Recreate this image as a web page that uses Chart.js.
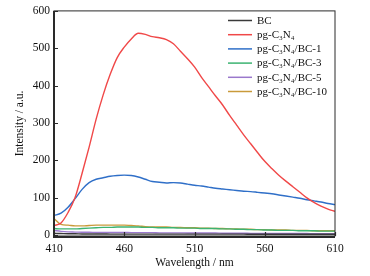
<!DOCTYPE html>
<html><head><meta charset="utf-8">
<script src="https://cdn.jsdelivr.net/npm/chart.js@4/dist/chart.umd.min.js"></script>
<style>html,body{margin:0;padding:0;background:#fff;}#wrap{width:370px;height:276px;position:relative;}</style>
</head><body><div id="wrap"><canvas id="c" width="370" height="276"></canvas></div>
<script>
const wavelengths = [410,415,420,425,430,435,440,445,450,455,460,465,470,475,480,485,490,495,500,505,510,515,520,525,530,535,540,545,550,555,560,565,570,575,580,585,590,595,600,605,610];
const seriesNames = ["BC","pg-C₃N₄","pg-C₃N₄/BC-1","pg-C₃N₄/BC-3","pg-C₃N₄/BC-5","pg-C₃N₄/BC-10"];
const bcValues = [4,3.5,3,3,2.5,2.5,2.5,2.5,2,2,2,2,2,2,2,2,2,2,2,2,2,2,2,2,2,2,2,2,1.5,1.5,1.5,1.5,1.5,1.5,1.5,1.5,1.5,1.5,1.5,1.5,1.5];
const pgValues = [25,32,60,100,165,235,310,375,430,475,503,525,540,537,531,528,523,512,492,472,450,422,397,372,348,320,294,268,244,220,197,178,160,144,129,114,99,87,77,69,63];
const bc1Values = [52,58,74,97,122,140,149,153,157,159,160,159,155,149,143,141,139,140,139,136,133,131,128,125,123,121,119,117,116,114,112,110,107,104,101,98,94,91,88,84,81];
const bc3Values = [17,16,16,16,17,18,19,20,20,21,21,21,21,20,20,19,19,19,18,18,18,17,17,17,16,16,15,15,14,14,13,13,12,12,12,11,11,11,10,10,10];
const bc5Values = [12,9.5,8,7.5,7,7,6.5,6.5,6.5,6.5,6.5,6,6,6,6,5.5,5.5,5.5,5.5,5,5,5,5,5,4.5,4.5,4.5,4.5,4,4,4,4,4,3.5,3.5,3.5,3.5,3,3,3,3];
const bc10Values = [44,28,26,24,24,25,26,26,26,26,26,25,24,22,21,21,21,20,20,19,19,18,18,17,17,16,16,15,15,14,14,13,13,13,12,12,12,11,11,11,11];
const xTicks = [410,460,510,560,610];
const yTicks = [0,100,200,300,400,500,600];
const colors = ["#3a3a3a","#f04848","#2f6fc8","#3cb371","#9a78cc","#c99a3a"];

const allValues = [bcValues,pgValues,bc1Values,bc3Values,bc5Values,bc10Values];
const datasets = seriesNames.map((n,i)=>({
  label:n,
  data:wavelengths.map((w,j)=>({x:w,y:allValues[i][j]})),
  borderColor:colors[i],
  backgroundColor:colors[i],
  borderWidth:1.4,
  pointRadius:0,
  tension:0.4,
  cubicInterpolationMode:'monotone',
  fill:false
}));
const FONT = "'Liberation Serif','Times New Roman',serif";

const framePlugin = {
  id:'frame',
  afterDatasetsDraw(chart){
    const {ctx, chartArea:a, scales} = chart;
    ctx.save();
    ctx.strokeStyle = '#2a2a2a';
    ctx.lineWidth = 1;
    ctx.strokeRect(a.left, a.top, a.right-a.left, a.bottom-a.top);
    ctx.lineWidth = 2;
    ctx.beginPath();
    ctx.moveTo(a.left, a.top); ctx.lineTo(a.left, a.bottom+1); ctx.lineTo(a.right, a.bottom+1);
    ctx.stroke();
    ctx.lineWidth = 1.2;
    ctx.beginPath();
    scales.y.ticks.forEach(t=>{const py=Math.round(scales.y.getPixelForValue(t.value))+0.5; ctx.moveTo(a.left, py); ctx.lineTo(a.left+4, py);});
    scales.x.ticks.forEach(t=>{const px=Math.round(scales.x.getPixelForValue(t.value))+0.5; ctx.moveTo(px, a.bottom); ctx.lineTo(px, a.bottom-4);});
    ctx.stroke();
    // legend
    const lx0 = 228, lx1 = 252, tx = 257, y0 = 20.5, dy = 14.2;
    ctx.font = "11px " + FONT;
    ctx.textBaseline = 'middle';
    ctx.textAlign = 'left';
    chart.data.datasets.forEach((d,i)=>{
      const y = y0 + i*dy;
      ctx.strokeStyle = d.borderColor; ctx.lineWidth = 1.5;
      ctx.beginPath(); ctx.moveTo(lx0,y); ctx.lineTo(lx1,y); ctx.stroke();
      ctx.fillStyle = '#111';
      ctx.fillText(d.label, tx, y+0.5);
    });
    ctx.restore();
  }
};

new Chart(document.getElementById('c'), {
  type:'line',
  data:{datasets},
  options:{
    responsive:false, animation:false, devicePixelRatio:1,
    layout:{padding:{top:10,right:35,left:0,bottom:0}},
    plugins:{legend:{display:false}, tooltip:{enabled:false}},
    scales:{
      x:{type:'linear', min:410, max:610,
        afterFit(s){s.height=40;},
        afterBuildTicks(s){s.ticks = xTicks.map(v=>({value:v}));},
        grid:{display:false, drawTicks:false},
        border:{display:false},
        ticks:{padding:6, color:'#111', font:{family:FONT, size:11.5}, maxRotation:0},
        title:{display:true, text:'Wavelength / nm', color:'#111', font:{family:FONT, size:11.5}, padding:{top:0,bottom:6}}
      },
      y:{type:'linear', min:-3, max:600,
        afterFit(s){s.width=54;},
        afterBuildTicks(s){s.ticks = yTicks.map(v=>({value:v}));},
        grid:{display:false, drawTicks:false},
        border:{display:false},
        ticks:{padding:4, color:'#111', font:{family:FONT, size:11.5}},
        title:{display:true, text:'Intensity / a.u.', color:'#111', font:{family:FONT, size:11.5}, padding:{top:13,bottom:0}}
      }
    }
  },
  plugins:[framePlugin]
});
</script></body></html>
